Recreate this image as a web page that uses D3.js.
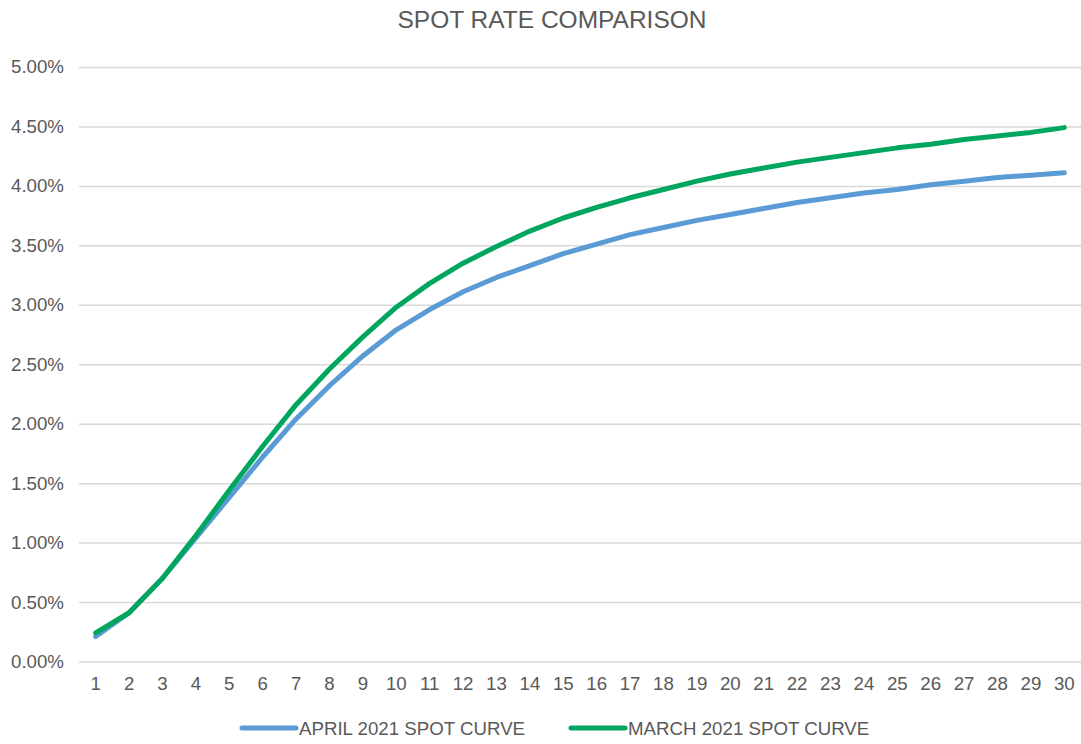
<!DOCTYPE html>
<html lang="en">
  <head>
    <meta charset="UTF-8" />
    <title>Spot Rate Comparison</title>
    <script src="https://cdn.jsdelivr.net/npm/d3@7/dist/d3.min.js"></script>
    <style>
      body { margin: 0; background: #fff; }
      text { font-family: "Liberation Sans", Arial, sans-serif; fill: #595959; }
    </style>
  </head>
  <body>
    <div id='app'></div>

    <script>
  // maturities (years)
  const years = d3.range(1, 31)

  // spot rates in percent
  const april = [0.21, 0.41, 0.70, 1.04, 1.38, 1.72, 2.04, 2.32, 2.57, 2.79,
    2.96, 3.11, 3.23, 3.33, 3.43, 3.51, 3.59, 3.65, 3.71, 3.76,
    3.81, 3.86, 3.90, 3.94, 3.97, 4.01, 4.04, 4.07, 4.09, 4.11]
  const march = [0.24, 0.41, 0.70, 1.06, 1.44, 1.81, 2.16, 2.46, 2.73, 2.98,
    3.18, 3.35, 3.49, 3.62, 3.73, 3.82, 3.90, 3.97, 4.04, 4.10,
    4.15, 4.20, 4.24, 4.28, 4.32, 4.35, 4.39, 4.42, 4.45, 4.49]

  const yTicks = [0, 0.5, 1, 1.5, 2, 2.5, 3, 3.5, 4, 4.5, 5]

  const series = [
    { name: 'APRIL 2021 SPOT CURVE', values: april, color: '#5b9bd5' },
    { name: 'MARCH 2021 SPOT CURVE', values: march, color: '#00a65d' }
  ]

  const width = 1081
  const height = 744
  const margin = { top: 67, right: 0, bottom: 82.5, left: 79 }
  const labelSize = '18.7px'

  const svg = d3.select('#app').append('svg')
    .attr('width', width)
    .attr('height', height)

  const x = d3.scaleBand()
    .domain(years)
    .range([margin.left, width - margin.right])

  const y = d3.scaleLinear()
    .domain([0, 5])
    .range([height - margin.bottom, margin.top])

  // title
  svg.append('text')
    .attr('x', 552)
    .attr('y', 28)
    .attr('text-anchor', 'middle')
    .style('font-size', '24.5px')
    .text('SPOT RATE COMPARISON')

  // gridlines + y labels
  const yAxis = svg.append('g')
    .attr('transform', `translate(${margin.left},0)`)
    .call(d3.axisLeft(y)
      .tickValues(yTicks)
      .tickSize(-(width - margin.left - margin.right))
      .tickPadding(15)
      .tickFormat(d => d.toFixed(2) + '%'))
  yAxis.select('.domain').remove()
  yAxis.selectAll('line').attr('stroke', '#d9d9d9').attr('stroke-width', 1.5)
  yAxis.selectAll('text')
    .style('font-size', labelSize)
    .style('font-family', '"Liberation Sans", Arial, sans-serif')
    .attr('fill', '#595959')

  // x labels
  const xAxis = svg.append('g')
    .attr('transform', `translate(0,${height - margin.bottom})`)
    .call(d3.axisBottom(x).tickSize(0).tickPadding(15))
  xAxis.select('.domain').remove()
  xAxis.selectAll('text')
    .style('font-size', labelSize)
    .style('font-family', '"Liberation Sans", Arial, sans-serif')
    .attr('fill', '#595959')

  // lines
  const line = d3.line()
    .x((d, i) => x(years[i]) + x.bandwidth() / 2)
    .y(d => y(d))

  svg.selectAll('path.series')
    .data(series)
    .join('path')
    .attr('class', 'series')
    .attr('d', d => line(d.values))
    .attr('fill', 'none')
    .attr('stroke', d => d.color)
    .attr('stroke-width', 5)
    .attr('stroke-linejoin', 'round')
    .attr('stroke-linecap', 'round')

  // legend
  const legendX = [242, 571]
  const legend = svg.selectAll('g.legend')
    .data(series)
    .join('g')
    .attr('class', 'legend')
    .attr('transform', (d, i) => `translate(${legendX[i]},728)`)
  legend.append('line')
    .attr('x1', 0).attr('x2', 54)
    .attr('stroke', d => d.color)
    .attr('stroke-width', 5)
    .attr('stroke-linecap', 'round')
  legend.append('text')
    .attr('x', 57)
    .attr('dy', '0.35em')
    .style('font-size', labelSize)
    .text(d => d.name)
    </script>
  </body>
</html>
